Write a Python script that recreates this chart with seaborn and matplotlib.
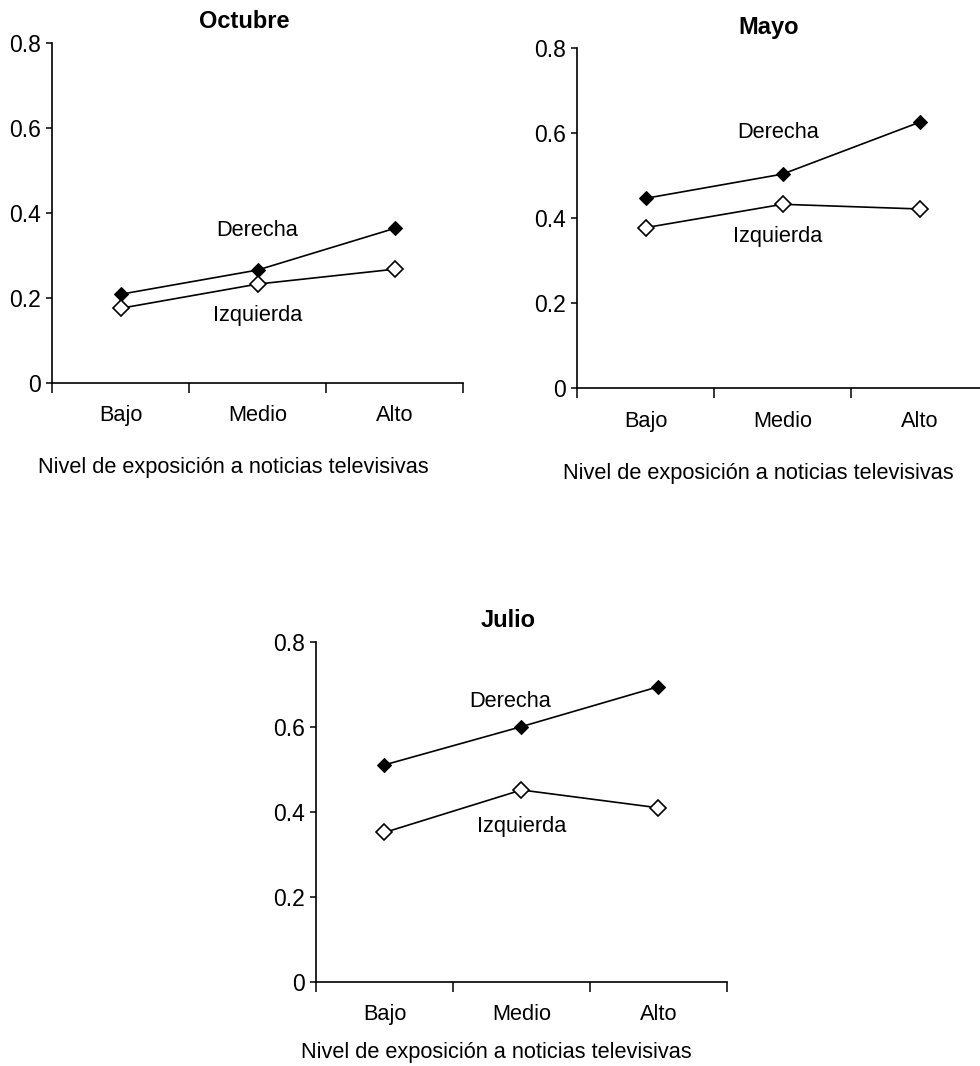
import pandas as pd
import matplotlib
matplotlib.use('Agg')
import matplotlib.pyplot as plt
import seaborn as sns

# datos
niveles = ['Bajo', 'Medio', 'Alto']
meses = ['Octubre', 'Mayo', 'Julio']
derecha = {
    'Octubre': [0.208, 0.265, 0.363],
    'Mayo': [0.447, 0.504, 0.626],
    'Julio': [0.510, 0.600, 0.694],
}
izquierda = {
    'Octubre': [0.175, 0.232, 0.267],
    'Mayo': [0.378, 0.433, 0.422],
    'Julio': [0.351, 0.451, 0.409],
}
y_ticks = [0, 0.2, 0.4, 0.6, 0.8]
y_ticklabels = ['0', '0.2', '0.4', '0.6', '0.8']
xlabel = 'Nivel de exposición a noticias televisivas'

sns.set_style('ticks')
plt.rcParams['font.family'] = ['Liberation Sans', 'DejaVu Sans']
plt.rcParams['text.color'] = 'black'
plt.rcParams['xtick.color'] = 'black'
plt.rcParams['ytick.color'] = 'black'
plt.rcParams['axes.labelcolor'] = 'black'

fig = plt.figure(figsize=(9.8, 10.66), dpi=100)

# posicion de cada panel y de sus etiquetas (Derecha, Izquierda)
paneles = {
    'Octubre': dict(rect=[0.0531, 0.641, 0.4194, 0.319], der=(1.0, 0.359), izq=(1.0, 0.159), xl=-0.25),
    'Mayo': dict(rect=[0.5888, 0.6357, 0.4194, 0.319], der=(0.967, 0.603), izq=(0.967, 0.358), xl=-0.249),
    'Julio': dict(rect=[0.3224, 0.0791, 0.4194, 0.319], der=(0.916, 0.658), izq=(1.0, 0.364), xl=-0.207),
}

fs = 15.7

for mes in meses:
    p = paneles[mes]
    ax = fig.add_axes(p['rect'])
    df = pd.DataFrame({'nivel': niveles, 'Derecha': derecha[mes], 'Izquierda': izquierda[mes]})
    df['pos'] = range(len(niveles))

    sns.lineplot(data=df, x='pos', y='Derecha', ax=ax, color='black', lw=1.2,
                 marker='D', markersize=7.5, markerfacecolor='black', markeredgecolor='black')
    sns.lineplot(data=df, x='pos', y='Izquierda', ax=ax, color='black', lw=1.2,
                 marker='D', markersize=8.5, markerfacecolor='white', markeredgecolor='black',
                 markeredgewidth=1.2)

    ax.set_xlim(-0.5, 2.5)
    ax.set_ylim(0, 0.8)
    ax.set_yticks(y_ticks)
    ax.set_yticklabels(y_ticklabels)
    ax.set_xticks([-0.5, 0.5, 1.5, 2.5])
    ax.set_xticklabels([])
    ax.set_xticks(df['pos'], minor=True)
    ax.set_xticklabels(niveles, minor=True)
    ax.tick_params(axis='x', which='major', length=7, width=1.1, direction='out')
    ax.tick_params(axis='x', which='minor', length=0, pad=16, labelsize=fs)
    ax.tick_params(axis='y', length=4, width=1.1, pad=4, labelsize=16.5)
    sns.despine(ax=ax)
    for s in ['left', 'bottom']:
        ax.spines[s].set_linewidth(1.2)
        ax.spines[s].set_color('black')

    ax.set_ylabel('')
    ax.set_xlabel(xlabel, fontsize=fs, va='center')
    ax.xaxis.set_label_coords(0.44, p['xl'])
    ax.text(0.467, 1.061, mes, transform=ax.transAxes, ha='center', va='center',
            fontsize=17, fontweight='bold')
    ax.text(*p['der'], 'Derecha', ha='center', va='center', fontsize=fs)
    ax.text(*p['izq'], 'Izquierda', ha='center', va='center', fontsize=fs)

fig.savefig('out.png', dpi=100)
